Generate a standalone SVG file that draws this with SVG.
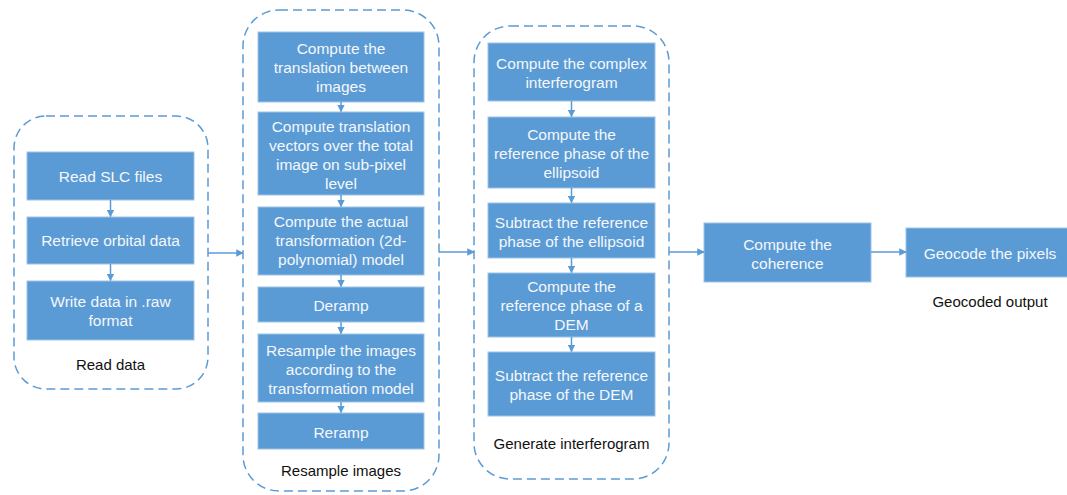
<svg xmlns="http://www.w3.org/2000/svg" width="1067" height="495" viewBox="0 0 1067 495">
<style>
.grp{fill:none;stroke:#5b9bd5;stroke-width:1.5;stroke-dasharray:9 5}
.box{fill:#5b9bd5;stroke:#9cc3e8;stroke-width:1}
.bt{font-family:"Liberation Sans",Arial,sans-serif;font-size:15.5px;fill:#f4f7fb;text-anchor:middle}
.lbl{font-family:"Liberation Sans",Arial,sans-serif;font-size:15px;fill:#111;text-anchor:middle}
.con{stroke:#5b9bd5;stroke-width:1.5;fill:none;marker-end:url(#ah)}
</style>
<defs>
<marker id="ah" viewBox="0 0 10 10" refX="9" refY="5" markerWidth="5" markerHeight="5" orient="auto" markerUnits="strokeWidth">
<path d="M0,0 L10,5 L0,10 z" fill="#5b9bd5"/>
</marker>
</defs>
<rect width="1067" height="495" fill="#ffffff"/>

<g id="group-read">
<rect class="grp" x="14" y="116" width="194" height="273" rx="32" ry="32"/>
<text class="lbl" x="110.5" y="370">Read data</text>
</g>
<g id="n-read-slc"><rect class="box" x="27" y="152" width="167" height="48"/><text class="bt" x="110.5" y="181.5">Read SLC files</text></g>
<g id="n-orbital"><rect class="box" x="27" y="217" width="167" height="47"/><text class="bt" x="110.5" y="246">Retrieve orbital data</text></g>
<g id="n-write"><rect class="box" x="27" y="281" width="167" height="59"/><text class="bt" x="110.5" y="306.5">Write data in .raw</text><text class="bt" x="110.5" y="325.5">format</text></g>

<g id="group-resample">
<rect class="grp" x="243" y="10" width="196" height="481" rx="36" ry="36"/>
<text class="lbl" x="341" y="476">Resample images</text>
</g>
<g id="n-translation"><rect class="box" x="258" y="32" width="166" height="70"/><text class="bt" x="341" y="53.5">Compute the</text><text class="bt" x="341" y="72.5">translation between</text><text class="bt" x="341" y="91.5">images</text></g>
<g id="n-vectors"><rect class="box" x="258" y="112" width="166" height="83"/><text class="bt" x="341" y="131.5">Compute translation</text><text class="bt" x="341" y="150.5">vectors over the total</text><text class="bt" x="341" y="169.5">image on sub-pixel</text><text class="bt" x="341" y="188.5">level</text></g>
<g id="n-transform"><rect class="box" x="258" y="207" width="166" height="68"/><text class="bt" x="341" y="227">Compute the actual</text><text class="bt" x="341" y="246">transformation (2d-</text><text class="bt" x="341" y="265">polynomial) model</text></g>
<g id="n-deramp"><rect class="box" x="258" y="287" width="166" height="35"/><text class="bt" x="341" y="310.5">Deramp</text></g>
<g id="n-resample"><rect class="box" x="258" y="334" width="166" height="68"/><text class="bt" x="341" y="355.5">Resample the images</text><text class="bt" x="341" y="374.5">according to the</text><text class="bt" x="341" y="393.5">transformation model</text></g>
<g id="n-reramp"><rect class="box" x="258" y="413" width="166" height="36"/><text class="bt" x="341" y="437.5">Reramp</text></g>

<g id="group-interf">
<rect class="grp" x="474" y="26" width="195" height="453" rx="36" ry="36"/>
<text class="lbl" x="571.5" y="449">Generate interferogram</text>
</g>
<g id="n-complex"><rect class="box" x="488" y="43" width="167" height="58"/><text class="bt" x="571.5" y="68.5">Compute the complex</text><text class="bt" x="571.5" y="87.5">interferogram</text></g>
<g id="n-refell"><rect class="box" x="488" y="117" width="167" height="71"/><text class="bt" x="571.5" y="139.5">Compute the</text><text class="bt" x="571.5" y="158.5">reference phase of the</text><text class="bt" x="571.5" y="177.5">ellipsoid</text></g>
<g id="n-subell"><rect class="box" x="488" y="203" width="167" height="55"/><text class="bt" x="571.5" y="227.5">Subtract the reference</text><text class="bt" x="571.5" y="246.5">phase of the ellipsoid</text></g>
<g id="n-refdem"><rect class="box" x="488" y="273" width="167" height="64"/><text class="bt" x="571.5" y="291.5">Compute the</text><text class="bt" x="571.5" y="310.5">reference phase of a</text><text class="bt" x="571.5" y="329.5">DEM</text></g>
<g id="n-subdem"><rect class="box" x="488" y="352" width="167" height="64"/><text class="bt" x="571.5" y="380.5">Subtract the reference</text><text class="bt" x="571.5" y="399.5">phase of the DEM</text></g>

<g id="n-coherence"><rect class="box" x="704" y="223" width="167" height="59"/><text class="bt" x="787.5" y="249.5">Compute the</text><text class="bt" x="787.5" y="268.5">coherence</text></g>
<g id="n-geocode"><rect class="box" x="906" y="228" width="167" height="49"/><text class="bt" x="990" y="258.5">Geocode the pixels</text>
<text class="lbl" x="990" y="307">Geocoded output</text></g>

<g id="connectors">
<line class="con" x1="110.5" y1="200" x2="110.5" y2="216.5"/>
<line class="con" x1="110.5" y1="264" x2="110.5" y2="280.5"/>
<line class="con" x1="341" y1="102" x2="341" y2="111.5"/>
<line class="con" x1="341" y1="195" x2="341" y2="206.5"/>
<line class="con" x1="341" y1="275" x2="341" y2="286.5"/>
<line class="con" x1="341" y1="322" x2="341" y2="333.5"/>
<line class="con" x1="341" y1="402" x2="341" y2="412.5"/>
<line class="con" x1="571.5" y1="101" x2="571.5" y2="116.5"/>
<line class="con" x1="571.5" y1="188" x2="571.5" y2="202.5"/>
<line class="con" x1="571.5" y1="258" x2="571.5" y2="272.5"/>
<line class="con" x1="571.5" y1="337" x2="571.5" y2="351.5"/>
<line class="con" x1="208" y1="253" x2="243" y2="253"/>
<line class="con" x1="439" y1="252" x2="474" y2="252"/>
<line class="con" x1="669" y1="252" x2="704" y2="252"/>
<line class="con" x1="871" y1="252" x2="906" y2="252"/>
</g>
</svg>
